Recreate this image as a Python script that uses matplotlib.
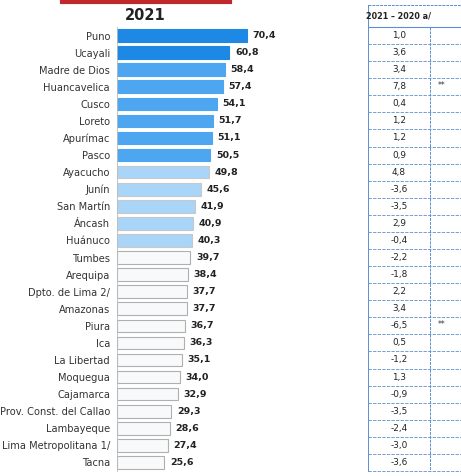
import matplotlib.pyplot as plt
import matplotlib.transforms as mtransforms

regions = ['Puno', 'Ucayali', 'Madre de Dios', 'Huancavelica', 'Cusco', 'Loreto',
           'Apurímac', 'Pasco', 'Ayacucho', 'Junín', 'San Martín', 'Áncash',
           'Huánuco', 'Tumbes', 'Arequipa', 'Dpto. de Lima 2/', 'Amazonas',
           'Piura', 'Ica', 'La Libertad', 'Moquegua', 'Cajamarca',
           'Prov. Const. del Callao', 'Lambayeque', 'Lima Metropolitana 1/', 'Tacna']
values_2021 = [70.4, 60.8, 58.4, 57.4, 54.1, 51.7, 51.1, 50.5, 49.8, 45.6, 41.9,
               40.9, 40.3, 39.7, 38.4, 37.7, 37.7, 36.7, 36.3, 35.1, 34.0, 32.9,
               29.3, 28.6, 27.4, 25.6]
diff_2021_2020 = [1.0, 3.6, 3.4, 7.8, 0.4, 1.2, 1.2, 0.9, 4.8, -3.6, -3.5, 2.9,
                  -0.4, -2.2, -1.8, 2.2, 3.4, -6.5, 0.5, -1.2, 1.3, -0.9, -3.5,
                  -2.4, -3.0, -3.6]
signif = ['', '', '', '**', '', '', '', '', '', '', '', '', '', '', '', '', '',
          '**', '', '', '', '', '', '', '', '']

W, H = 461, 476
fig = plt.figure(figsize=(W / 100, H / 100), dpi=100)
fig.patch.set_facecolor('white')

# main bar axes, placed in pixel terms
ax = fig.add_axes([117 / W, 1 - 471 / H, 185 / W, 444 / H])

colors = []
edges = []
for i in range(len(regions)):
    if i < 2:
        colors.append('#1e88e5'); edges.append('#1e88e5')
    elif i < 8:
        colors.append('#4ea5f0'); edges.append('#4ea5f0')
    elif i < 13:
        colors.append('#a9d5f8'); edges.append('#c8c8c8')
    else:
        colors.append('#f7f9fb'); edges.append('#b0b0b0')

ypos = list(range(len(regions)))
ax.barh(ypos, values_2021, height=0.74, color=colors, edgecolor=edges, linewidth=0.8)
ax.set_xlim(0, 100)
ax.set_ylim(len(regions) - 0.5, -0.5)
ax.set_yticks(ypos)
ax.set_yticklabels(regions, fontsize=7.1, color='#333333')
ax.tick_params(axis='y', length=0, pad=5)
ax.set_xticks([])
for s in ['top', 'right', 'bottom']:
    ax.spines[s].set_visible(False)
ax.spines['left'].set_color('#bbbbbb')
ax.spines['left'].set_linewidth(0.6)

for y, v in zip(ypos, values_2021):
    ax.text(v + 3, y, f'{v:.1f}'.replace('.', ','), va='center', ha='left',
            fontsize=6.8, fontweight='bold', color='#222222')

fig.text(145 / W, 1 - 15 / H, '2021', ha='center', va='center', fontsize=10.5,
         fontweight='bold', color='#222222')
fig.add_artist(plt.Line2D([62 / W, 230 / W], [1 - 1.5 / H, 1 - 1.5 / H],
                          color='#c0282d', linewidth=3))

# side table with differences
tr = mtransforms.blended_transform_factory(fig.transFigure, ax.transData)
x_left, x_mid, x_right = 368 / W, 430 / W, 1.0
line_col = '#5b8fd0'
top = -0.5 - 22 / 17
fig.add_artist(plt.Line2D([x_left, x_right], [top, top], transform=tr,
                          color=line_col, linewidth=0.7, linestyle=(0, (3, 1))))
fig.add_artist(plt.Line2D([x_left, x_right], [-0.5, -0.5], transform=tr,
                          color=line_col, linewidth=0.8))
for y in ypos:
    fig.add_artist(plt.Line2D([x_left, x_right], [y + 0.5, y + 0.5], transform=tr,
                              color=line_col, linewidth=0.6, linestyle=(0, (4, 1.5))))
bottom = len(regions) - 0.5
fig.add_artist(plt.Line2D([x_left, x_left], [top, bottom], transform=tr,
                          color=line_col, linewidth=0.7))
fig.add_artist(plt.Line2D([x_mid, x_mid], [-0.5, bottom], transform=tr,
                          color=line_col, linewidth=0.7, linestyle=(0, (3, 1))))

fig.text(399 / W, (top - 0.5) / 2, '2021 – 2020 a/', transform=tr, ha='center',
         va='center', fontsize=5.8, fontweight='bold', color='#222222')
for y, d, s in zip(ypos, diff_2021_2020, signif):
    fig.text(399 / W, y, f'{d:.1f}'.replace('.', ','), transform=tr, ha='center',
             va='center', fontsize=6.4, color='#222222')
    if s:
        fig.text(442 / W, y - 0.1, s, transform=tr, ha='center', va='center',
                 fontsize=5.5, color='#333333')

fig.savefig('out.png', dpi=100, facecolor='white')
